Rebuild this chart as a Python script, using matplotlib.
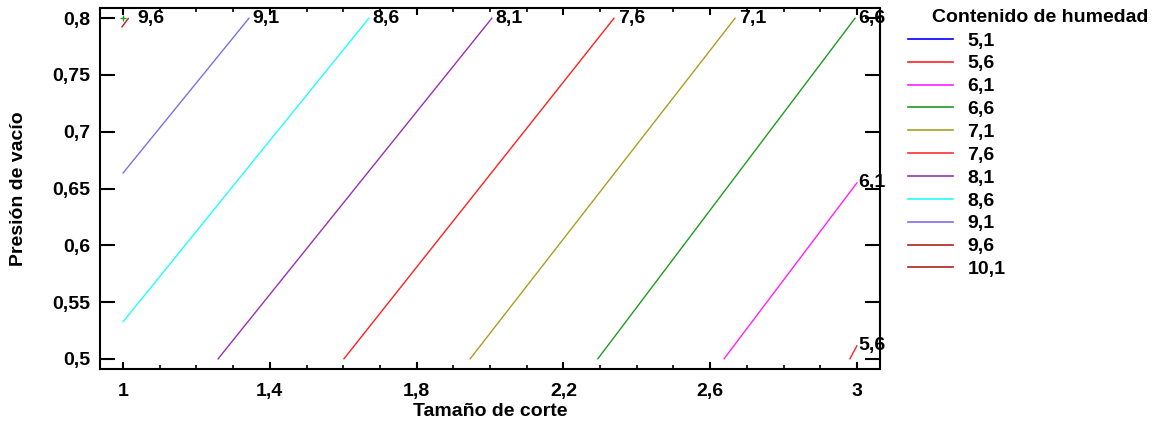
import matplotlib
matplotlib.use('Agg')
import matplotlib.pyplot as plt
from matplotlib.ticker import MultipleLocator, FuncFormatter

plt.rcParams['font.family'] = ['Liberation Sans', 'DejaVu Sans']
plt.rcParams['font.weight'] = 'bold'

FS = 14

# legend entries (all contour levels)
legend_labels = ['5,1', '5,6', '6,1', '6,6', '7,1', '7,6', '8,1', '8,6', '9,1', '9,6', '10,1']
legend_colors = ['#0000ff', '#ff2020', '#ff20ff', '#209a20', '#a8a020', '#ff3030',
                 '#9a30b0', '#20ffff', '#7b70e8', '#b02020', '#b02020']

# visible contour segments
seg_labels = ['9,6', '9,1', '8,6', '8,1', '7,6', '7,1', '6,6', '6,1', '5,6']
seg_colors = ['#b02020', '#7b70e8', '#20ffff', '#9a30b0', '#ff2020', '#a8a020',
              '#209a20', '#ff20ff', '#ff2020']
x_start = [0.997, 1.0, 1.0, 1.259, 1.602, 1.946, 2.294, 2.638, 2.981]
y_start = [0.7924, 0.6637, 0.5326, 0.5, 0.5, 0.5, 0.5, 0.5, 0.5]
x_end = [1.014, 1.343, 1.670, 2.005, 2.338, 2.668, 2.995, 3.0, 3.0]
y_end = [0.7997, 0.8, 0.8, 0.8, 0.8, 0.8, 0.8, 0.6549, 0.5114]
label_dx = [0.025, 0.01, 0.01, 0.01, 0.01, 0.01, 0.008, 0.003, 0.003]

fig = plt.figure(figsize=(11.67, 4.26), dpi=100)
ax = fig.add_axes([100/1167, 57/426, 780/1167, 361/426])

for i in range(len(seg_labels)):
    ax.plot([x_start[i], x_end[i]], [y_start[i], y_end[i]], color=seg_colors[i], linewidth=1.0)
    ax.text(x_end[i] + label_dx[i], y_end[i], seg_labels[i], ha='left', va='center',
            fontsize=FS, fontweight='bold', color='black', zorder=5)

# small marker near top-left corner
ax.plot([0.999], [0.8], marker='+', color='#20a020', markersize=4, markeredgewidth=1)

ax.set_xlim(0.937, 3.063)
ax.set_ylim(0.491, 0.809)

ax.xaxis.set_minor_locator(MultipleLocator(0.1))
ax.yaxis.set_major_locator(MultipleLocator(0.05))
ax.set_xticks([1, 1.4, 1.8, 2.2, 2.6, 3.0])

fmt = FuncFormatter(lambda v, p: ('%g' % round(v, 3)).replace('.', ','))
ax.xaxis.set_major_formatter(fmt)
ax.yaxis.set_major_formatter(fmt)

ax.tick_params(axis='x', which='major', direction='in', top=True, length=5, width=1.5,
               pad=10, labelsize=FS)
ax.tick_params(axis='x', which='minor', direction='in', top=True, length=3, width=1.2)
ax.tick_params(axis='y', which='major', direction='in', right=True, length=11, width=1.5,
               pad=7, labelsize=FS)
for lab in ax.get_xticklabels() + ax.get_yticklabels():
    lab.set_fontweight('bold')
for s in ax.spines.values():
    s.set_linewidth(1.5)

ax.set_xlabel('Tamaño de corte', fontsize=FS, fontweight='bold', labelpad=2)
ax.set_ylabel('Presión de vacío', fontsize=FS, fontweight='bold', labelpad=18)

handles = [plt.Line2D([], [], color=c, linewidth=1.2) for c in legend_colors]
fig.legend(handles, legend_labels, loc='upper left', bbox_to_anchor=(908/1167, 1 - 32/426),
           frameon=False, handlelength=2.3, handletextpad=0.75,
           labelspacing=0.27, borderpad=0, borderaxespad=0, prop={'weight': 'bold', 'size': FS})
fig.text(932/1167, 1 - 18/426, 'Contenido de humedad', ha='left', va='center',
         fontsize=FS, fontweight='bold')

fig.savefig('out.png', dpi=100)
